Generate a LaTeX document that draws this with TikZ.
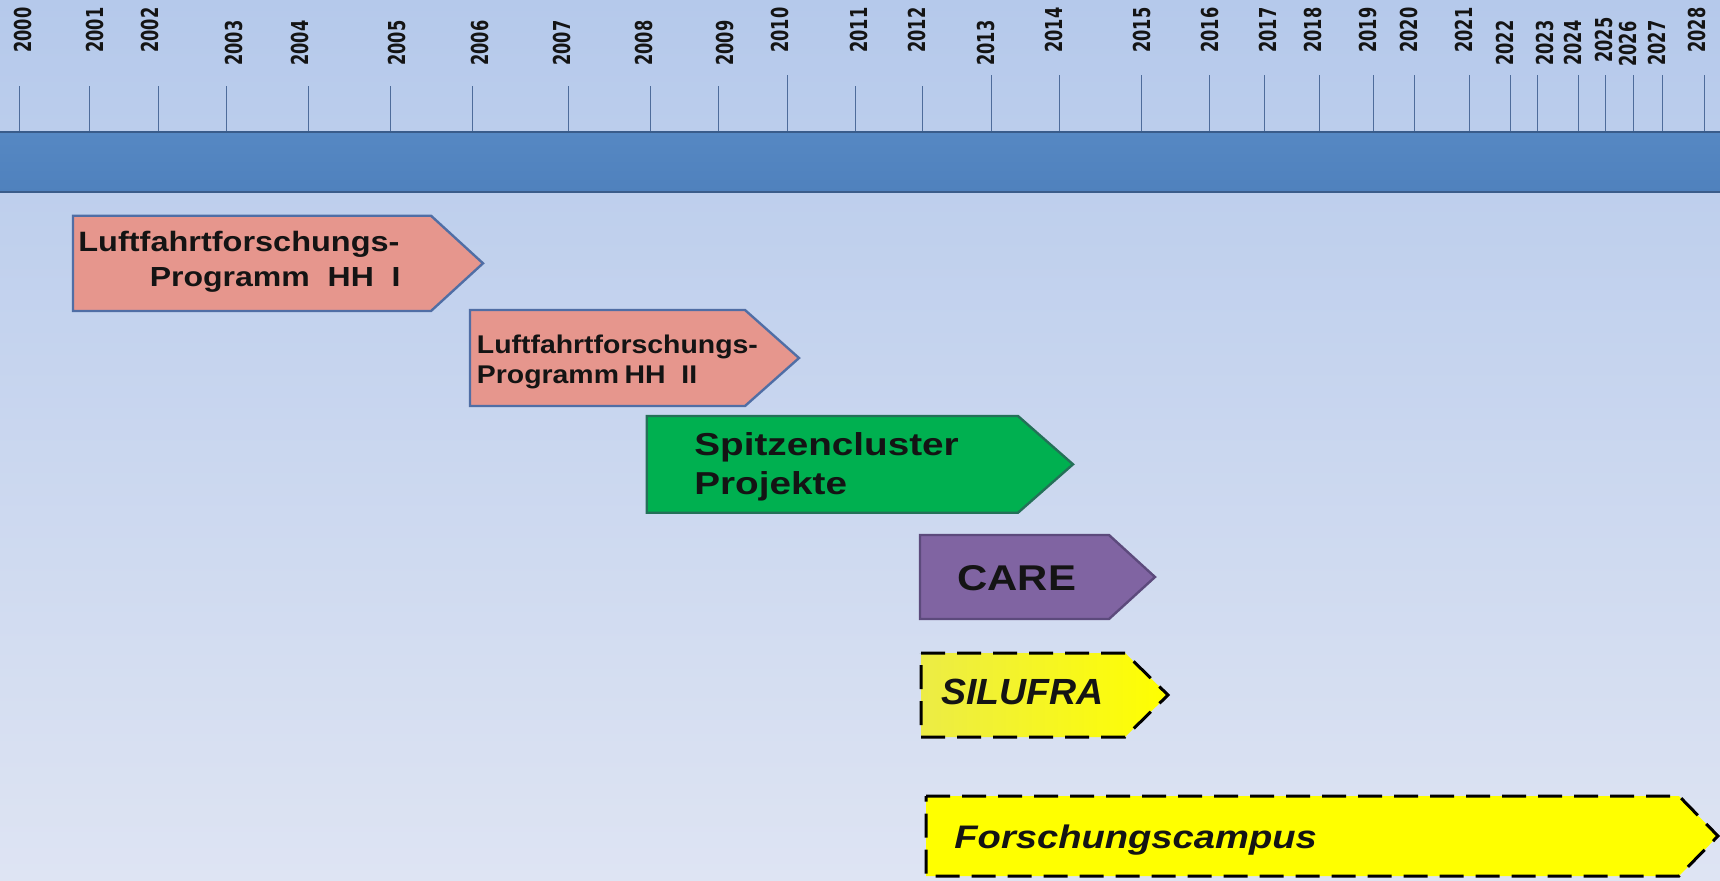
\documentclass[tikz,border=0pt]{standalone}
\usepackage{fontspec}
\setmainfont{Liberation Sans}
\newfontfamily\yearfont{DejaVu Sans}
\usepackage{graphicx}
\definecolor{bgtop}{RGB}{181,201,235}
\definecolor{bgbot}{RGB}{222,228,243}
\definecolor{bandfill}{RGB}{79,129,189}
\definecolor{bandtop}{RGB}{86,136,195}
\definecolor{bandedge}{RGB}{58,92,138}
\definecolor{tickcol}{RGB}{78,108,155}
\definecolor{pinkfill}{RGB}{230,150,141}
\definecolor{pinkedge}{RGB}{80,110,165}
\definecolor{greenfill}{RGB}{0,176,80}
\definecolor{greenedge}{RGB}{36,112,88}
\definecolor{purplefill}{RGB}{128,100,162}
\definecolor{purpleedge}{RGB}{92,74,124}
\definecolor{yellowA}{RGB}{236,236,70}
\definecolor{yellowB}{RGB}{255,255,0}
\definecolor{txt}{RGB}{20,20,20}
\begin{document}
\begin{tikzpicture}[x=0.5pt,y=-0.5pt,
  tick/.style={draw=tickcol,line width=0.5pt},
  yearlbl/.style={rotate=90,anchor=north west,inner sep=0pt,text=txt,
     font=\yearfont\bfseries\fontsize{8.1}{8.1}\selectfont},
  pinkarrow/.style={fill=pinkfill,draw=pinkedge,line width=1.2pt,line join=miter},
  greenarrow/.style={fill=greenfill,draw=greenedge,line width=1.2pt},
  purplearrow/.style={fill=purplefill,draw=purpleedge,line width=1.2pt},
  dasharrow/.style={draw=black,line width=1.5pt,dash pattern=on 12pt off 6pt},
  lbl/.style={inner sep=0pt,text=txt},
]
\useasboundingbox (0,0) rectangle (1720,880);
% background
\shade[top color=bgtop,bottom color=bgbot] (0,0) rectangle (1720,880);
% band
\shade[top color=bandtop,bottom color=bandfill] (0,131.5) rectangle (1720,192.5);
\draw[bandedge,line width=1.3pt] (0,132) -- (1720,132);
\draw[bandedge,line width=1.3pt] (0,192) -- (1720,192);
% ticks
\foreach \tx/\tt in {19/86,89/86,158/86,226/86,308/86,390/86,472/86,568/86,650/86,718/86,787/75,855/86,922/86,
  991/75,1059/75,1141/75,1209/75,1264/75,1319/75,1373/75,1414/75,1469/75,1510/75,1537/75,1578/75,1605/75,1633/75,1662/75,1704/75}
  {\draw[tick] (\tx,\tt) -- (\tx,131);}
% year labels
\foreach \yr/\lx/\by in {2000/14/53,2001/86/53,2002/141/53,2003/225/66,2004/291/66,2005/388/66,2006/471/66,2007/553/66,
  2008/635/66,2009/716/66,2010/771/53,2011/850/53,2012/908/53,2013/977/66,2014/1045/53,2015/1133/53,2016/1201/53,
  2017/1259/53,2018/1304/53,2019/1359/53,2020/1400/53,2021/1455/53,2022/1496/66,2023/1536/66,2024/1564/66,
  2025/1595/63,2026/1619/67,2027/1648/66,2028/1688/53}
  {\node[yearlbl] (y\yr) at (\lx,\by) {\scalebox{1}[1.44]{\yr}};}
% arrows
\draw[pinkarrow] (73,215.7) -- (431,215.7) -- (483,263.3) -- (431,311) -- (73,311) -- cycle;
\draw[pinkarrow] (470,310) -- (745,310) -- (799,358) -- (745,406) -- (470,406) -- cycle;
\draw[greenarrow] (646.7,416) -- (1018,416) -- (1073,464.3) -- (1018,512.7) -- (646.7,512.7) -- cycle;
\draw[purplearrow] (920,535) -- (1109,535) -- (1155,577) -- (1109,619) -- (920,619) -- cycle;
\shade[left color=yellowA,right color=yellowB] (921,653) -- (1125,653) -- (1168,695) -- (1125,737) -- (921,737) -- cycle;
\draw[dasharrow] (921,653) -- (1125,653) -- (1168,695) -- (1125,737) -- (921,737) -- cycle;
\draw[dasharrow,fill=yellowB] (926,796) -- (1679,796) -- (1718,836) -- (1679,876) -- (926,876) -- cycle;
% texts
\begin{scope}[every node/.append style={lbl}]
\node[anchor=base west,font=\bfseries\fontsize{14}{14}\selectfont] (lfpA) at (78,251.7) {\scalebox{1.16}[1]{Luftfahrtforschungs-}};
\node[anchor=base east,font=\bfseries\fontsize{13.8}{13.8}\selectfont] (lfpB) at (401,286) {\scalebox{1.16}[1]{Programm\ \ HH\ \ I}};
\node[anchor=base west,font=\bfseries\fontsize{12.8}{12.8}\selectfont] (lfpC) at (476.5,353.3) {\scalebox{1.11}[1]{Luftfahrtforschungs-}};
\node[anchor=base west,font=\bfseries\fontsize{12.8}{12.8}\selectfont] (lfpD) at (476.5,383.3) {\scalebox{1.11}[1]{Programm\hspace{0.2em}HH\ \ II}};
\node[anchor=base west,font=\bfseries\fontsize{15.85}{15.85}\selectfont] (spA) at (694,455.7) {\scalebox{1.22}[1]{Spitzencluster}};
\node[anchor=base west,font=\bfseries\fontsize{15.85}{15.85}\selectfont] (spB) at (694,494) {\scalebox{1.22}[1]{Projekte}};
\node[anchor=base west,font=\bfseries\fontsize{17.9}{17.9}\selectfont] (care) at (957,590.7) {\scalebox{1.17}[1]{CARE}};
\node[anchor=base west,font=\bfseries\itshape\fontsize{18.2}{18.2}\selectfont] (sil) at (941,704) {\scalebox{1.03}[1]{SILUFRA}};
\node[anchor=base west,font=\bfseries\itshape\fontsize{16.3}{16.3}\selectfont] (fc) at (954,848.3) {\scalebox{1.17}[1]{Forschungscampus}};
\end{scope}
\end{tikzpicture}
\end{document}
